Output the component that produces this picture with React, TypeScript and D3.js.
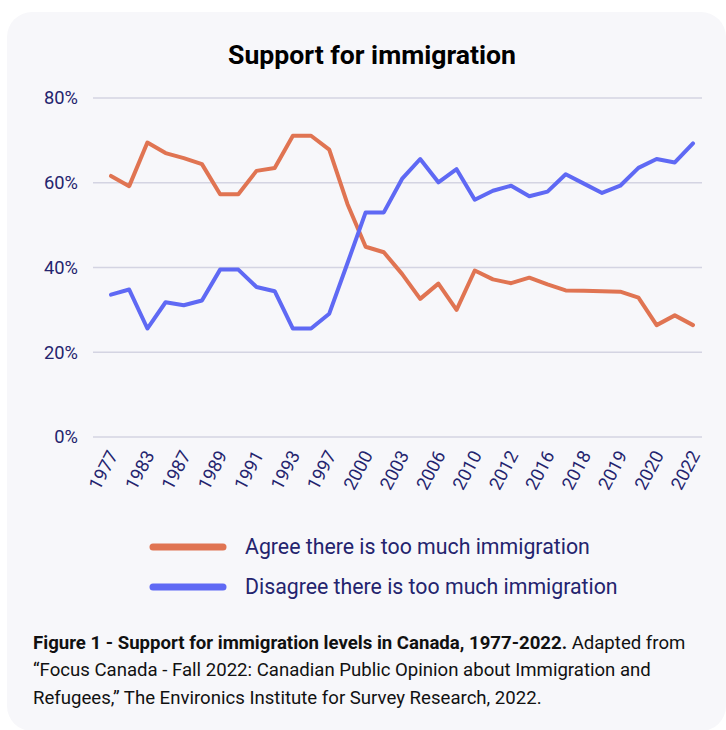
import React from "react";
import * as d3 from "d3";

const categories = [
  "1977", "1980", "1983", "1985", "1987", "1988", "1989", "1990", "1991", "1992",
  "1993", "1994", "1997", "1998", "2000", "2002", "2003", "2005", "2006", "2008",
  "2010", "2011", "2012", "2015", "2016", "2017", "2018", "2018b", "2019", "2019b",
  "2020", "2021", "2022",
];
const agree = [
  61.6, 59.2, 69.5, 67.0, 65.8, 64.4, 57.3, 57.3, 62.8, 63.5,
  71.1, 71.1, 67.8, 55.0, 44.9, 43.6, 38.5, 32.6, 36.2, 30.0,
  39.3, 37.2, 36.3, 37.6, 36.0, 34.6, 34.5, 34.4, 34.3, 32.9,
  26.4, 28.7, 26.4,
];
const disagree = [
  33.6, 34.8, 25.6, 31.8, 31.1, 32.2, 39.5, 39.5, 35.4, 34.4,
  25.6, 25.6, 29.1, 41.0, 53.0, 53.0, 60.9, 65.6, 60.1, 63.2,
  56.0, 58.1, 59.3, 56.8, 57.9, 62.0, 59.8, 57.6, 59.3, 63.5,
  65.6, 64.8, 69.3,
];
const yTicks = [0, 20, 40, 60, 80];
const seriesNames = ["Agree there is too much immigration", "Disagree there is too much immigration"];
const seriesColors = ["#e07452", "#5f69f4"];

const W = 726;
const H = 730;
const FONT = "Roboto, 'Noto Sans', sans-serif";
const NAVY = "#24246e";

export default function App() {
  const x = d3.scalePoint<number>().domain(d3.range(categories.length)).range([111, 693]);
  const y = d3.scaleLinear().domain([0, 80]).range([437, 98]);
  const line = d3
    .line<number>()
    .x((_, i) => x(i) as number)
    .y((d) => y(d));
  const series = [agree, disagree];

  return (
    <svg width={W} height={H} style={{ position: "absolute", left: 0, top: 0 }} fontFamily={FONT}>
      <rect x={0} y={0} width={W} height={H} fill="#ffffff" />
      <rect x={7} y={12} width={719} height={719} rx={25} ry={25} fill="#f7f7fa" />
      <text x={372} y={64} textAnchor="middle" fontSize={26.6} fontWeight={700} fill="#000">
        Support for immigration
      </text>
      {yTicks.map((t) => (
        <g key={t}>
          <line x1={93} x2={702} y1={y(t)} y2={y(t)} stroke="#d4d4e2" strokeWidth={1.5} />
          <text x={78} y={y(t)} dy="0.35em" textAnchor="end" fontSize={18.3} fill={NAVY}>
            {t}%
          </text>
        </g>
      ))}
      {categories.map((c, i) =>
        i % 2 === 0 ? (
          <text
            key={i}
            transform={`translate(${(x(i) as number) + 2},${452}) rotate(-62)`}
            textAnchor="end"
            dy="0.35em"
            fontSize={18.3}
            fill={NAVY}
          >
            {c}
          </text>
        ) : null
      )}
      {series.map((s, k) => (
        <path
          key={k}
          d={line(s) || ""}
          fill="none"
          stroke={seriesColors[k]}
          strokeWidth={4}
          strokeLinejoin="round"
          strokeLinecap="round"
        />
      ))}
      {seriesNames.map((n, k) => (
        <g key={n} transform={`translate(0,${547 + k * 40})`}>
          <line x1={153} x2={223} y1={0} y2={0} stroke={seriesColors[k]} strokeWidth={7} strokeLinecap="round" />
          <text x={245} y={0} dy="0.35em" fontSize={21.3} fill={NAVY}>
            {n}
          </text>
        </g>
      ))}
      <g fontSize={18.6} fill="#111">
        <text x={33} y={649}>
          <tspan fontWeight={700}>Figure 1 - Support for immigration levels in Canada, 1977-2022.</tspan>
          <tspan> Adapted from</tspan>
        </text>
        <text x={33} y={676}>
          “Focus Canada - Fall 2022: Canadian Public Opinion about Immigration and
        </text>
        <text x={33} y={704}>
          Refugees,” The Environics Institute for Survey Research, 2022.
        </text>
      </g>
    </svg>
  );
}
